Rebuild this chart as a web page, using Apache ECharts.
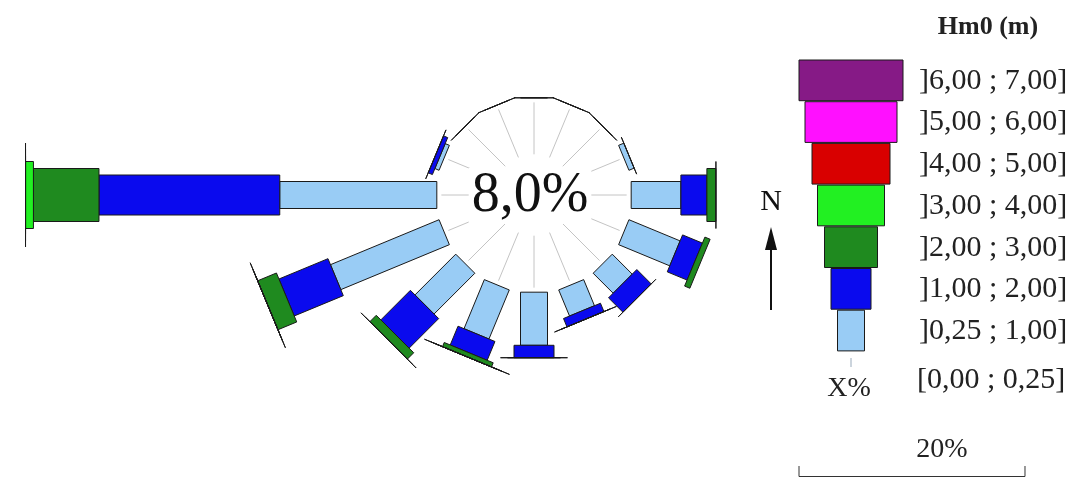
<!DOCTYPE html>
<html><head><meta charset="utf-8">
<script src="https://cdn.jsdelivr.net/npm/echarts@6/dist/echarts.min.js"></script>
<style>html,body{margin:0;padding:0;background:#fff}#c{width:1075px;height:482px}</style>
</head><body><div id="c"></div>
<script>
// 16 directions, clockwise from North
const directions = ['N','NNE','NE','ENE','E','ESE','SE','SSE','S','SSW','SW','WSW','W','WNW','NW','NNW'];
const classLabels = [']0,25 ; 1,00]', ']1,00 ; 2,00]', ']2,00 ; 3,00]', ']3,00 ; 4,00]', ']4,00 ; 5,00]', ']5,00 ; 6,00]', ']6,00 ; 7,00]'];
const calmLabel = '[0,00 ; 0,25]';
const calmPercent = 8.0;
const legendTitle = 'Hm0 (m)';
const scaleValue = 20;
// frequency (%) per Hm0 class and direction; null = class not drawn
const hs_025_1 = [0, 0, 0, 0.5, 4.4, 4.9, 2.5, 2.5, 4.7, 4.7, 5.1, 10.4, 13.9, 0.4, 0, 0];
const hs_1_2   = [0, 0, 0, 0, 2.3, 1.9, 1.8, 0.8, 1.1, 1.8, 3.7, 4.7, 16.0, 0.4, 0, 0];
const hs_2_3   = [null, null, null, null, 0.8, 0.5, 0, 0, 0, 0.4, 0.8, 1.8, 5.8, 0, null, null];
const hs_3_4   = [null, null, null, null, 0, null, null, 0, 0, 0, 0, 0, 0.7, null, null, null];
const hs_4_5   = [null, null, null, null, null, null, null, null, null, 0, 0, 0, 0, null, null, null];
const hs_5_6   = [null, null, null, null, null, null, null, null, null, 0, null, 0, 0, null, null, null];
const hs_6_7   = [null, null, null, null, null, null, null, null, null, null, null, null, 0, null, null, null];

const classData = [hs_025_1, hs_1_2, hs_2_3, hs_3_4, hs_4_5, hs_5_6, hs_6_7];
const classColors = ['#99ccf5', '#0a0aee', '#1f8a1f', '#22f022', '#d90000', '#ff10ff', '#861a86'];
const classWidths = [27, 40, 53, 67, 78, 92, 104];

const rMin = -8.6, rMax = 44.5, polarRadius = 600;
const cx = 534, cy = 195;
const pxPerUnit = polarRadius / (rMax - rMin);

const step = 360 / directions.length;
const cum = directions.map(() => 0);
const series = [];
classData.forEach((arr, k) => {
  const data = [];
  arr.forEach((v, d) => {
    if (v === null) return;
    const start = cum[d];
    cum[d] = start + v;
    data.push([cum[d], d * step, start]);
  });
  const w = classWidths[k];
  series.push({
    type: 'custom', name: classLabels[k], coordinateSystem: 'polar', silent: true,
    encode: { radius: 0, angle: 1 },
    data: data,
    renderItem: function (params, api) {
      const r1 = api.value(0), ang = api.value(1), r0 = api.value(2);
      const p0 = api.coord([r0, ang]);
      const p1 = api.coord([r1, ang]);
      const q = api.coord([r0 + 1, ang]);
      let ux = q[0] - p0[0], uy = q[1] - p0[1];
      const L = Math.hypot(ux, uy); ux /= L; uy /= L;
      const nx = -uy * w / 2, ny = ux * w / 2;
      return {
        type: 'polygon',
        shape: { points: [[p0[0] + nx, p0[1] + ny], [p1[0] + nx, p1[1] + ny], [p1[0] - nx, p1[1] - ny], [p0[0] - nx, p0[1] - ny]] },
        style: { fill: classColors[k], stroke: '#1a1a1a', lineWidth: 1 }
      };
    }
  });
});

// inner spokes of the calm circle
series.unshift({
  type: 'custom', coordinateSystem: 'polar', silent: true,
  encode: { radius: 0, angle: 1 },
  data: directions.map((d, i) => [-0.4, i * step]),
  renderItem: function (params, api) {
    const ang = api.value(1);
    const a = api.coord([-5.0, ang]), b = api.coord([-0.4, ang]);
    return { type: 'line', shape: { x1: a[0], y1: a[1], x2: b[0], y2: b[1] }, style: { stroke: '#c4c4c4', lineWidth: 1 } };
  }
});

const graphics = [];
const serif = "'Liberation Serif', 'DejaVu Serif', serif";
graphics.push({ type: 'text', x: 530, y: 196, z: 10, style: { text: calmPercent.toFixed(1).replace('.', ',') + '%', font: '56px ' + serif, fill: '#111', align: 'center', verticalAlign: 'middle', backgroundColor: '#fff', padding: [0, 3] } });
graphics.push({ type: 'text', x: 988, y: 27, style: { text: legendTitle, font: 'bold 26px ' + serif, fill: '#222', align: 'center', verticalAlign: 'middle' } });
const rowH = 41.7, top0 = 60, lx = 851;
for (let k = 6; k >= 0; k--) {
  const top = top0 + (6 - k) * rowH;
  const w = classWidths[k];
  graphics.push({ type: 'rect', shape: { x: lx - w / 2, y: top, width: w, height: rowH - 1 }, style: { fill: classColors[k], stroke: '#1a1a1a', lineWidth: 1 } });
  graphics.push({ type: 'text', x: 919, y: top + rowH / 2, style: { text: classLabels[k], font: '30px ' + serif, fill: '#222', align: 'left', verticalAlign: 'middle' } });
}
graphics.push({ type: 'line', shape: { x1: lx, y1: 358, x2: lx, y2: 367 }, style: { stroke: '#9ab', lineWidth: 1 } });
graphics.push({ type: 'text', x: 849, y: 389, style: { text: 'X%', font: '28px ' + serif, fill: '#222', align: 'center', verticalAlign: 'middle' } });
graphics.push({ type: 'text', x: 917, y: 380, style: { text: calmLabel, font: '30px ' + serif, fill: '#222', align: 'left', verticalAlign: 'middle' } });
// North arrow
graphics.push({ type: 'text', x: 771, y: 202, style: { text: 'N', font: '30px ' + serif, fill: '#111', align: 'center', verticalAlign: 'middle' } });
graphics.push({ type: 'line', shape: { x1: 771, y1: 310, x2: 771, y2: 245 }, style: { stroke: '#111', lineWidth: 2 } });
graphics.push({ type: 'polygon', shape: { points: [[771, 227], [765, 250], [777, 250]] }, style: { fill: '#111' } });
// scale bar
const sw = scaleValue * pxPerUnit, sx = 799;
graphics.push({ type: 'text', x: sx + sw / 2 + 30, y: 450, style: { text: scaleValue + '%', font: '28px ' + serif, fill: '#222', align: 'center', verticalAlign: 'middle' } });
graphics.push({ type: 'polyline', shape: { points: [[sx, 466], [sx, 476.5], [sx + sw, 476.5], [sx + sw, 466]] }, style: { stroke: '#333', lineWidth: 1, fill: null } });

const chart = echarts.init(document.getElementById('c'), null, { renderer: 'canvas' });
chart.setOption({
  backgroundColor: '#fff',
  animation: false,
  polar: { center: [cx, cy], radius: polarRadius },
  angleAxis: { type: 'value', min: 0, max: 360, startAngle: 90, clockwise: true, show: false },
  radiusAxis: { type: 'value', min: rMin, max: rMax, show: false },
  series: series,
  graphic: graphics
});
</script></body></html>
